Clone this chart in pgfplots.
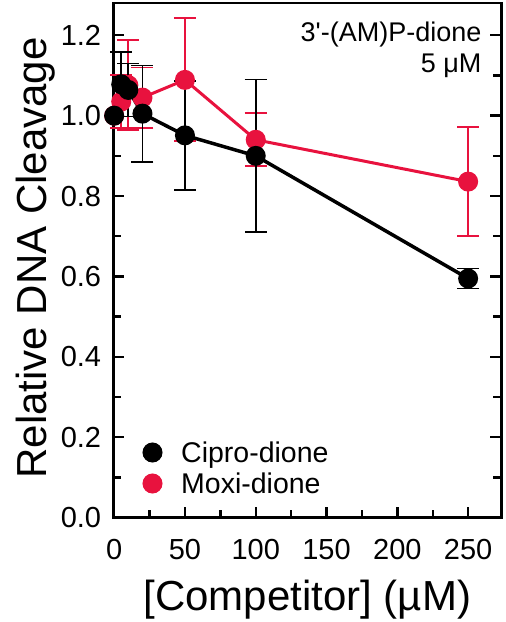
\documentclass[border=0pt]{standalone}
\usepackage{fontspec}
\setmainfont{Liberation Sans}
\usepackage{pgfplots}
\pgfplotsset{compat=1.18}
\definecolor{moxi}{RGB}{232,18,62}
\begin{document}
\begin{tikzpicture}
\useasboundingbox (0pt,0pt) rectangle (506pt,622pt);
\begin{axis}[
  at={(113.3pt,104.3pt)}, anchor=south west,
  scale only axis, width=388.1pt, height=514.6pt,
  xmin=-0.6, xmax=273.5, ymin=0, ymax=1.28,
  clip=false,
  axis line style={line width=2.8pt},
  xtick={0,50,...,250}, minor x tick num=1,
  ytick={0,0.2,0.4,0.6,0.8,1.0,1.2}, minor y tick num=1,
  xtick pos=left, ytick pos=both,
  tick align=inside,
  major tick length=11pt, minor tick length=8pt,
  every tick/.style={line width=2.4pt, black},
  tick label style={font=\fontsize{29}{33}\selectfont},
  /pgf/number format/assume math mode=true,
  y tick label style={/pgf/number format/fixed, /pgf/number format/fixed zerofill, /pgf/number format/precision=1, inner sep=0pt, xshift=-12pt},
  x tick label style={inner sep=0pt, yshift=-21pt},
  xlabel={[Competitor] (µM)},
  xlabel style={font=\fontsize{42}{48}\selectfont, at={(axis description cs:0.5,-0.181)}, anchor=base},
  ylabel={Relative DNA Cleavage},
  ylabel style={font=\fontsize{42}{48}\selectfont, at={(axis description cs:-0.172,0.505)}, anchor=base},
  legend style={draw=none, fill=none, at={(axis description cs:0.0773,0.1572)}, anchor=north west,
    font=\fontsize{28.5}{31}\selectfont, inner sep=0pt, row sep=0pt, column sep=17.7pt,
    nodes={inner sep=2pt, text height=23pt, text depth=4pt}},
  legend cell align=left,
  reverse legend,
  legend image code/.code={\path plot[mark=*, mark size=9pt, mark options={line width=2pt}] coordinates {(10pt,0pt)};},
]
% Moxi-dione error bars
\addplot[moxi, only marks, mark=none, forget plot,
  error bars/.cd, y dir=both, y explicit,
  error bar style={draw=moxi, line width=1.8pt},
  error mark options={draw=moxi, rotate=90, mark size=11pt, line width=1.8pt}]
  table[x=x, y=y, y error=e] {
x y e
5 1.035 0.066
10 1.076 0.112
20 1.045 0.075
50 1.089 0.153
100 0.940 0.066
250 0.836 0.135
};
% Moxi-dione
\addplot[moxi, line width=3pt, mark=*, mark size=9pt, mark options={line width=2pt}]
  table[x=x, y=y] {
x y
0 1.000
5 1.035
10 1.076
20 1.045
50 1.089
100 0.940
250 0.836
};
\addlegendentry{Moxi-dione}
% Cipro-dione error bars
\addplot[black, only marks, mark=none, forget plot,
  error bars/.cd, y dir=both, y explicit,
  error bar style={draw=black, line width=1.8pt},
  error mark options={draw=black, rotate=90, mark size=11pt, line width=1.8pt}]
  table[x=x, y=y, y error=e] {
x y e
5 1.078 0.080
10 1.064 0.066
20 1.005 0.120
50 0.951 0.135
100 0.900 0.190
250 0.595 0.025
};
% Cipro-dione
\addplot[black, line width=3.5pt, mark=*, mark size=9pt, mark options={line width=2pt}]
  table[x=x, y=y] {
x y
0 1.000
5 1.078
10 1.064
20 1.005
50 0.951
100 0.900
250 0.595
};
\addlegendentry{Cipro-dione}
\node[anchor=base east, font=\fontsize{27}{31}\selectfont, inner sep=0pt] at (axis description cs:0.949,0.9256) {3\textquotesingle-(AM)P-dione};
\node[anchor=base east, font=\fontsize{27}{31}\selectfont, inner sep=0pt] at (axis description cs:0.949,0.8642) {5 μM};
\end{axis}
\end{tikzpicture}
\end{document}
